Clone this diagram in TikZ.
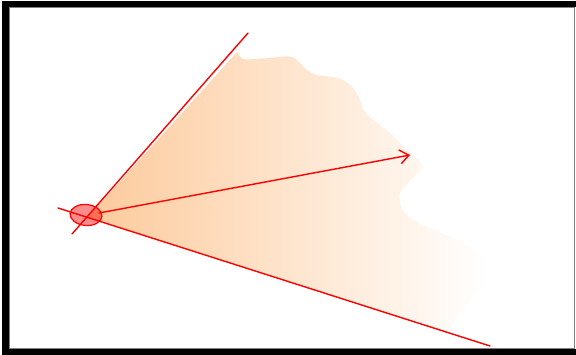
\documentclass[tikz,border=0pt]{standalone}
\usetikzlibrary{arrows.meta,shapes.geometric}
\begin{document}
\begin{tikzpicture}[x=1pt,y=-1pt,
  redline/.style={draw=red, line width=1.4pt},
  spot/.style={ellipse, draw=red, line width=1.2pt, fill=red, fill opacity=0.45, minimum width=32pt, minimum height=21pt, inner sep=0pt}]
\useasboundingbox (0,0) rectangle (576,355);
\fill[white] (0,0) rectangle (576,355);
% fan shading
\coordinate (apex) at (88,217);
\shade[left color={rgb,255:red,253;green,202;blue,155}, right color=white]
  (apex) -- (237,52)
  -- plot[smooth, tension=0.5] coordinates {(237,52) (243,59) (256,59) (270,58) (292,57) (307,70) (317,75) (333,77) (343,80) (353,88) (360,100) (364,111) (373,120) (390,133) (407,150) (420,162) (421,170) (410,181) (400,193) (400,203) (407,215) (427,227) (453,238) (473,250) (486,263) (487,273) (483,284) (470,300) (460,312) (448,333)}
  -- cycle;
% lines
\coordinate (u1) at (72,234);
\coordinate (u2) at (248,33);
\coordinate (l1) at (58,208);
\coordinate (l2) at (490,346);
\coordinate (tip) at (410,155);
\coordinate (astart) at (99,213);
\draw[redline, line cap=round] (u1) -- (u2);
\draw[redline, line cap=round] (l1) -- (l2);
\draw[redline, line cap=round, -{Straight Barb[length=9pt,width=14pt,line width=1.4pt]}] (astart) -- (tip);
\node[spot, rotate=-5] (src) at (86,215) {};
% frame
\fill[black] (2,1) rectangle (576,7);
\fill[black] (2,1) rectangle (9,355);
\fill[black] (2,349) rectangle (576,355);
\draw[gray, line width=0.9pt] (9.5,7.5) rectangle (574.6,348.5);
\end{tikzpicture}
\end{document}
